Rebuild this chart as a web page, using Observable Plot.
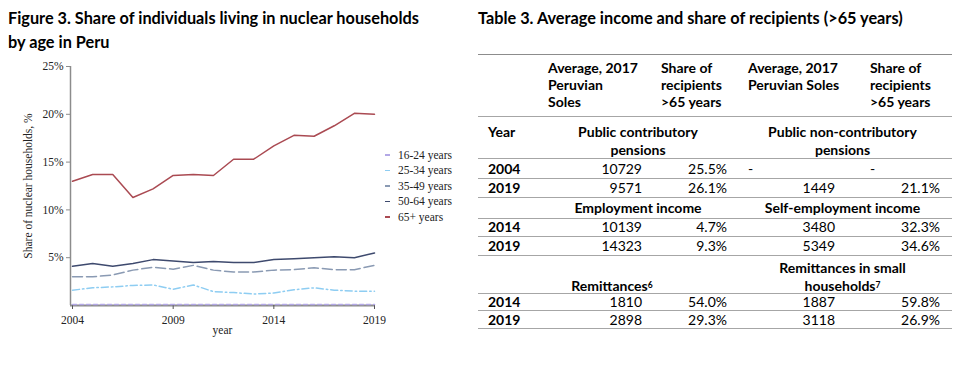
<!DOCTYPE html>
<html><head><meta charset="utf-8">
<script src="https://cdn.jsdelivr.net/npm/d3@7"></script>
<script src="https://cdn.jsdelivr.net/npm/@observablehq/plot@0.6"></script>
<style>
body{margin:0;background:#fff;width:955px;height:372px;position:relative;overflow:hidden;font-family:Lato,"Noto Sans",sans-serif;color:#000;}
.ttl{position:absolute;font-weight:700;font-size:16.3px;line-height:24px;white-space:nowrap;}
#chart{position:absolute;left:0;top:50px;}
#legend{position:absolute;left:385px;top:147px;font-family:"Liberation Serif",serif;font-size:11.5px;color:#222;}
.li{height:15.5px;display:flex;align-items:center;white-space:nowrap}
.sw{width:5px;height:1.5px;margin-right:8px;}
table{position:absolute;left:478px;top:54px;width:474px;border-collapse:collapse;font-size:14px;table-layout:fixed;}
td{padding:0;vertical-align:middle;line-height:16px;white-space:pre-line;}
tr{border-top:1px solid #a6a6a6;}
tr:last-child{border-bottom:1px solid #a6a6a6;}
.b{font-weight:700;}
.r{text-align:right;}
.c{text-align:center;}
.sh{position:relative;}
.ln{display:block;white-space:nowrap;}
sup{font-size:8.5px;line-height:0;vertical-align:3.5px;}
</style></head>
<body>
<div class="ttl" style="left:8px;top:6px">Figure 3. Share of individuals living in nuclear households<br>by age in Peru</div>
<div id="chart"></div>
<div id="legend"></div>
<div class="ttl" style="left:478px;top:6px">Table 3. Average income and share of recipients (&gt;65 years)</div>
<table id="tbl"></table>
<script>
// ---- Figure data ----
const years = [2004,2005,2006,2007,2008,2009,2010,2011,2012,2013,2014,2015,2016,2017,2018,2019];
const ageGroups = ["16-24 years","25-34 years","35-49 years","50-64 years","65+ years"];
const share1624 = [0.1,0.1,0.1,0.1,0.1,0.1,0.1,0.1,0.1,0.1,0.1,0.1,0.1,0.1,0.1,0.1];
const share2534 = [1.6,1.85,1.95,2.1,2.15,1.7,2.15,1.45,1.35,1.2,1.3,1.65,1.85,1.6,1.5,1.5];
const share3549 = [3.0,3.0,3.2,3.7,4.0,3.8,4.2,3.7,3.5,3.5,3.7,3.75,3.95,3.75,3.75,4.2];
const share5064 = [4.1,4.4,4.1,4.4,4.8,4.65,4.5,4.6,4.5,4.5,4.8,4.9,5.0,5.1,5.0,5.5];
const share65 = [13.0,13.7,13.7,11.3,12.2,13.6,13.7,13.6,15.3,15.3,16.7,17.8,17.7,18.8,20.1,20.0];
const xTicks = [2004,2009,2014,2019];
const yTicks = [5,10,15,20,25];

// ---- Table data ----
const colHeaders = ["Average, 2017\nPeruvian\nSoles","Share of\nrecipients\n>65 years","Average, 2017\nPeruvian Soles","Share of\nrecipients\n>65 years"];
const incomeSources = ["Public contributory\npensions","Public non-contributory\npensions","Employment income","Self-employment income","Remittances","Remittances in small\nhouseholds"];
const footnotes = [null,null,null,null,6,7];
const blockYears = [[2004,2019],[2014,2019],[2014,2019]];
const avgIncome = [[10729,9571],[null,1449],[10139,14323],[3480,5349],[1810,2898],[1887,3118]];
const shareRecipients = [[25.5,26.1],[null,21.1],[4.7,9.3],[32.3,34.6],[54.0,29.3],[59.8,26.9]];

// ---- chart ----
const seriesVals = [share1624,share2534,share3549,share5064,share65];
const colors = ["#b3a8e6","#8ecdf2","#8a9ab3","#3e4a6e","#aa4a52"];
const dashes = ["4,3","7,3,1.5,3","10,4",null,null];
const data = ageGroups.flatMap((g,i)=>years.map((y,j)=>({group:g,year:y,value:seriesVals[i][j]})));
const xMin = 2003.9;
const chart = Plot.plot({
  width: 475, height: 300,
  marginLeft: 70, marginRight: 101, marginTop: 16, marginBottom: 45,
  style: {fontFamily: "'Liberation Serif', serif", fontSize: "11.5px", color: "#222", background: "transparent"},
  x: {domain: [xMin, 2019], label: null},
  y: {domain: [0, 25], label: null},
  marks: [
    Plot.ruleY([0], {stroke: "#8c8c8c", strokeWidth: 1.8}),
    Plot.ruleX([xMin], {stroke: "#8c8c8c", strokeWidth: 1.5}),
    Plot.axisY({ticks: yTicks, tickFormat: d => d + "%", tickSize: 4, tickPadding: 3, stroke: "#8c8c8c",
      label: "Share of nuclear households, %", labelAnchor: "center", labelArrow: "none", labelOffset: 47}),
    Plot.axisX({ticks: xTicks, tickFormat: d => String(d), tickSize: 4, tickPadding: 6, stroke: "#555",
      label: "year", labelAnchor: "center", labelArrow: "none", labelOffset: 28}),
    ...ageGroups.map((g,i)=>Plot.line(data.filter(d=>d.group===g), {x:"year", y:"value", stroke: colors[i], strokeWidth: 1.5, strokeDasharray: dashes[i] || undefined}))
  ]
});
document.getElementById("chart").appendChild(chart);

// legend
const leg = document.getElementById("legend");
ageGroups.forEach((g,i)=>{
  const d = document.createElement("div"); d.className="li";
  d.innerHTML = `<span class="sw" style="background:${colors[i]}"></span><span>${g}</span>`;
  leg.appendChild(d);
});

// ---- table ----
const tbl = document.getElementById("tbl");
const esc = s => s.replace(/&/g,"&amp;").replace(/</g,"&lt;").replace(/>/g,"&gt;");
let html = `<colgroup><col style="width:67px"><col style="width:112px"><col style="width:88px"><col style="width:121px"><col style="width:86px"></colgroup>`;
html += `<tr style="height:62px;border-top:1.5px solid #8c8c8c"><td></td>` + colHeaders.map((h,i)=>`<td class="b" style="vertical-align:top;line-height:17px;padding:4px 0 0 ${[3,4,3,4][i]}px">${esc(h)}</td>`).join("") + `</tr>`;
const fmtInc = v => v==null ? "-" : String(v);
const fmtSh = v => v==null ? "-" : v.toFixed(1) + "%";
const secH = [42,20,38];
const secShift = [2.5,1,3];
const rowH = [[20,19],[18.5,18.5],[17.5,18]];
for (let b=0;b<3;b++){
  const L = b*2, R = b*2+1;
  const lab = (k)=>{
    const lines = incomeSources[k].split("\n");
    return `<div class="sh" style="top:${secShift[b]}px">` + lines.map((t,i)=>`<span class="ln">${esc(t)}${(i===lines.length-1 && footnotes[k]!=null)?`<sup>${footnotes[k]}</sup>`:""}</span>`).join("") + `</div>`;
  };
  const leftPad = b===2 ? "padding-right:66px" : "padding-right:14px";
  const secStyle = "white-space:normal;vertical-align:bottom;line-height:18.5px;padding-bottom:" + (b===2?"0":"1") + "px";
  html += `<tr style="height:${secH[b]}px"><td class="b" style="vertical-align:top;line-height:18px;padding:6px 0 0 10px">${b===0?"Year":""}</td>`+
    `<td colspan="2" class="b c" style="${secStyle};${leftPad}">${lab(L)}</td>`+
    `<td colspan="2" class="b c" style="${secStyle};padding-right:12px">${lab(R)}</td></tr>`;
  for (let r=0;r<2;r++){
    const a1 = avgIncome[L][r], s1 = shareRecipients[L][r], a2 = avgIncome[R][r], s2 = shareRecipients[R][r];
    html += `<tr style="height:${rowH[b][r]}px"><td class="b" style="padding-left:10px">${blockYears[b][r]}</td>`+
      `<td class="r" style="padding-right:15px">${fmtInc(a1)}</td>`+
      `<td class="r" style="padding-right:18px">${fmtSh(s1)}</td>`+
      (a2==null ? `<td style="padding-left:3px">-</td>` : `<td class="r" style="padding-right:31px">${fmtInc(a2)}</td>`)+
      (s2==null ? `<td style="padding-left:4px">-</td>` : `<td class="r" style="padding-right:12px">${fmtSh(s2)}</td>`)+
      `</tr>`;
  }
}
tbl.innerHTML = html;
</script>
</body></html>
